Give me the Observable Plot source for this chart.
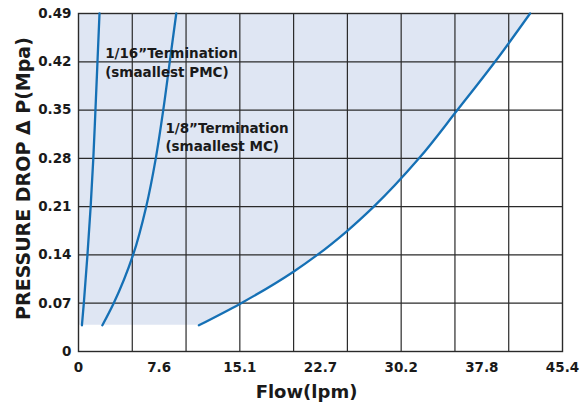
<!DOCTYPE html>
<html>
<head>
<meta charset="utf-8">
<script src="https://cdn.jsdelivr.net/npm/d3@7"></script>
<script src="https://cdn.jsdelivr.net/npm/@observablehq/plot@0.6"></script>
<style>
  html, body { margin: 0; padding: 0; background: #ffffff; }
  #chart svg { display: block; }
</style>
</head>
<body>
<div id="chart"></div>
<script>
// ---- data ----
const xMax = 45.4;
const yMax = 0.49;
const xTickLabels = ["0", "7.6", "15.1", "22.7", "30.2", "37.8", "45.4"];
const yTickValues = [0, 0.07, 0.14, 0.21, 0.28, 0.35, 0.42, 0.49];
const yTickLabels = ["0", "0.07", "0.14", "0.21", "0.28", "0.35", "0.42", "0.49"];
const xGridCount = 9;

// 1/16" termination (smallest PMC)
const pmcFlow = [0.32, 0.50, 0.84, 1.14, 1.39, 1.59, 1.78, 1.97];
const pmcDrop = [0.038, 0.07, 0.14, 0.21, 0.28, 0.35, 0.42, 0.49];
// 1/8" termination (smallest MC)
const mcFlow = [2.24, 3.3, 5.12, 6.35, 7.25, 7.95, 8.56, 9.17];
const mcDrop = [0.038, 0.07, 0.14, 0.21, 0.28, 0.35, 0.42, 0.49];
// largest termination
const bigFlow = [11.29, 15.13, 20.2, 22.4, 25.22, 27.7, 31.94, 35.54, 39.07, 42.36];
const bigDrop = [0.038, 0.069, 0.116, 0.14, 0.175, 0.21, 0.28, 0.35, 0.42, 0.49];

const labels = [
  {text: "1/16”Termination\n(smaallest PMC)", flow: 2.5, drop: 0.4205},
  {text: "1/8”Termination\n(smaallest MC)", flow: 8.15, drop: 0.3125}
];

// ---- build tables ----
const toRows = (fx, fy, name) => fx.map((f, i) => ({flow: f, drop: fy[i], series: name}));
const pmc = toRows(pmcFlow, pmcDrop, "pmc");
const mc = toRows(mcFlow, mcDrop, "mc");
const big = toRows(bigFlow, bigDrop, "big");

const xTicks = xTickLabels.map((_, i) => xMax * i / (xTickLabels.length - 1));
const xLabelOf = new Map(xTicks.map((v, i) => [v, xTickLabels[i]]));
const yLabelOf = new Map(yTickValues.map((v, i) => [v, yTickLabels[i]]));
const xGrid = d3.range(1, xGridCount).map(k => xMax * k / xGridCount);
const yGrid = yTickValues.slice(1, -1);

const FONT = "DejaVu Sans, sans-serif";
const INK = "#1a1a1a";
const LINE = "#1570b5";
const FILL = "#dfe6f3";
const GRID = "#2a2a2a";
const CURVE = "monotone-y";

const chart = Plot.plot({
  width: 588,
  height: 405,
  marginLeft: 78,
  marginRight: 26,
  marginTop: 13,
  marginBottom: 54,
  style: {fontFamily: FONT, background: "#ffffff", overflow: "visible"},
  x: {domain: [0, xMax], axis: null},
  y: {domain: [0, yMax], axis: null},
  marks: [
    Plot.areaX(big, {y: "drop", x1: () => 0, x2: "flow", fill: FILL, curve: CURVE}),
    Plot.ruleX(xGrid, {stroke: GRID, strokeWidth: 1.2}),
    Plot.ruleY(yGrid, {stroke: GRID, strokeWidth: 1.2}),
    Plot.frame({stroke: GRID, strokeWidth: 1.4}),
    Plot.line(pmc, {x: "flow", y: "drop", stroke: LINE, strokeWidth: 2.3, curve: CURVE}),
    Plot.line(mc, {x: "flow", y: "drop", stroke: LINE, strokeWidth: 2.3, curve: CURVE}),
    Plot.line(big, {x: "flow", y: "drop", stroke: LINE, strokeWidth: 2.3, curve: CURVE}),
    Plot.text(labels, {x: "flow", y: "drop", text: "text", textAnchor: "start", lineAnchor: "middle",
      lineHeight: 1.38, fontSize: 13.5, fontWeight: "bold", fill: INK}),
    Plot.axisX(xTicks, {tickSize: 0, tickPadding: 11, tickFormat: d => xLabelOf.get(d),
      fontSize: 13.5, fontWeight: "bold", fill: INK, label: null}),
    Plot.axisY(yTickValues, {tickSize: 0, tickPadding: 7, tickFormat: d => yLabelOf.get(d),
      fontSize: 13.5, fontWeight: "bold", fill: INK, label: null}),
    Plot.text(["Flow(lpm)"], {frameAnchor: "bottom", dx: -14, dy: 41, lineAnchor: "middle",
      text: d => d, fontSize: 18, fontWeight: "bold", fill: INK}),
    Plot.text(["PRESSURE DROP Δ P(Mpa)"], {frameAnchor: "left", dx: -55, dy: -4, rotate: -90,
      textAnchor: "middle", lineAnchor: "middle", text: d => d, fontSize: 19, fontWeight: "bold", fill: INK})
  ]
});

document.getElementById("chart").appendChild(chart);
</script>
</body>
</html>
